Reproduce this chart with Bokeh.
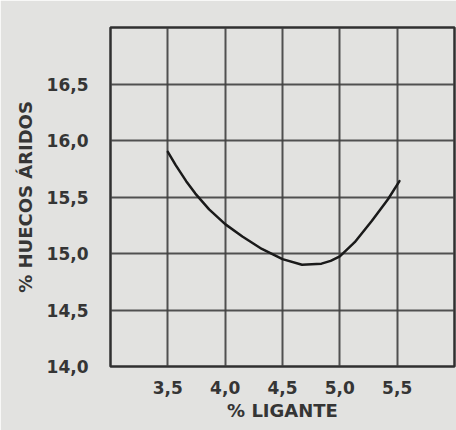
from bokeh.plotting import figure
from bokeh.models import FixedTicker, Range1d
from bokeh.embed import file_html
from bokeh.resources import INLINE

ligante = [3.5, 3.57, 3.66, 3.74, 3.86, 4.0, 4.15, 4.32, 4.5, 4.67, 4.84, 4.92, 5.0, 5.13, 5.28, 5.42, 5.52]
huecos = [15.9, 15.78, 15.64, 15.53, 15.39, 15.26, 15.15, 15.04, 14.95, 14.9, 14.91, 14.935, 14.975, 15.1, 15.29, 15.48, 15.64]

x_ticks = [3.5, 4.0, 4.5, 5.0, 5.5]
y_ticks = [14.0, 14.5, 15.0, 15.5, 16.0, 16.5]
x_grid = [3.5, 4.0, 4.5, 5.0, 5.5]
y_grid = [14.5, 15.0, 15.5, 16.0, 16.5]

bg = "#e2e2e0"
ink = "#353535"

p = figure(width=456, height=430, output_backend="svg", toolbar_location=None,
           x_range=Range1d(3.0, 6.0), y_range=Range1d(14.0, 17.0),
           min_border_left=110, min_border_right=2, min_border_top=27, min_border_bottom=64)
p.background_fill_color = bg
p.border_fill_color = bg
p.outline_line_color = "#303030"
p.outline_line_width = 2.5

p.xaxis.ticker = FixedTicker(ticks=x_ticks)
p.yaxis.ticker = FixedTicker(ticks=y_ticks)
p.xaxis.major_label_overrides = {t: f"{t:.1f}".replace(".", ",") for t in x_ticks}
p.yaxis.major_label_overrides = {t: f"{t:.1f}".replace(".", ",") for t in y_ticks}

for ax in (p.xaxis, p.yaxis):
    ax.axis_line_color = None
    ax.major_tick_line_color = None
    ax.minor_tick_line_color = None
    ax.major_label_text_font = "DejaVu Sans"
    ax.major_label_text_font_style = "bold"
    ax.major_label_text_font_size = "17px"
    ax.major_label_text_color = ink
    ax.axis_label_text_font = "DejaVu Sans"
    ax.axis_label_text_font_style = "bold"
    ax.axis_label_text_font_size = "18px"
    ax.axis_label_text_color = ink

p.yaxis.major_label_standoff = 16
p.xaxis.major_label_standoff = 8
p.xaxis.axis_label = "% LIGANTE"
p.yaxis.axis_label = "% HUECOS ÁRIDOS"
p.xaxis.axis_label_standoff = 3
p.yaxis.axis_label_standoff = 8

p.xgrid.ticker = FixedTicker(ticks=x_grid)
p.ygrid.ticker = FixedTicker(ticks=y_grid)
p.grid.grid_line_color = "#404040"
p.grid.grid_line_width = 2
p.grid.grid_line_alpha = 0.9

p.line(ligante, huecos, line_color="#1a1a1a", line_width=2.5, line_join="round", line_cap="round")

open("out.html", "w").write(file_html(p, INLINE))
